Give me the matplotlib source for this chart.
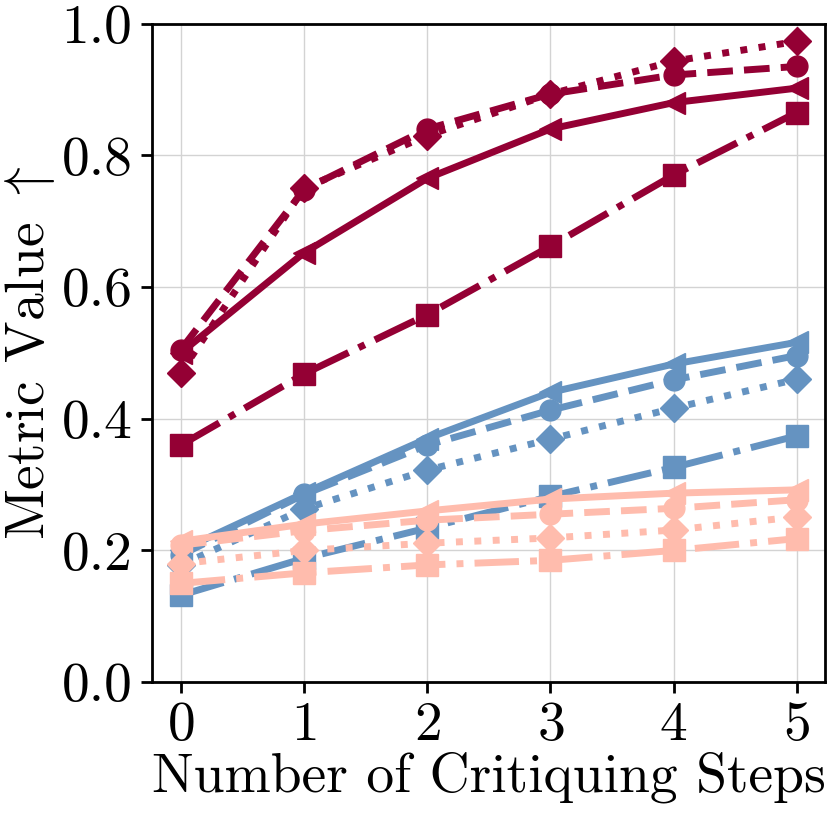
import numpy as np
import matplotlib
matplotlib.use("Agg")
import matplotlib.pyplot as plt

plt.rcParams["font.family"] = "cmr10"
plt.rcParams["mathtext.fontset"] = "cm"
plt.rcParams["axes.unicode_minus"] = False
plt.rcParams["axes.formatter.use_mathtext"] = True

steps = [0, 1, 2, 3, 4, 5]

# dark red group
red_solid = [0.500, 0.652, 0.765, 0.840, 0.880, 0.902]
red_dashed = [0.505, 0.748, 0.840, 0.893, 0.922, 0.935]
red_dotted = [0.470, 0.750, 0.830, 0.893, 0.943, 0.973]
red_dashdot = [0.360, 0.468, 0.558, 0.662, 0.770, 0.865]

# blue group
blue_solid = [0.200, 0.287, 0.370, 0.440, 0.483, 0.516]
blue_dashed = [0.193, 0.285, 0.360, 0.413, 0.459, 0.496]
blue_dotted = [0.178, 0.263, 0.322, 0.369, 0.416, 0.460]
blue_dashdot = [0.132, 0.188, 0.234, 0.282, 0.326, 0.374]

# salmon group
salmon_solid = [0.214, 0.240, 0.260, 0.278, 0.287, 0.292]
salmon_dashed = [0.208, 0.230, 0.246, 0.255, 0.264, 0.277]
salmon_dotted = [0.180, 0.200, 0.211, 0.219, 0.231, 0.251]
salmon_dashdot = [0.150, 0.166, 0.178, 0.185, 0.200, 0.218]

colors = {"red": "#940034", "blue": "#6593c1", "salmon": "#ffbcad"}
styles = [("-", "<", 16), ("--", "o", 15), (":", "D", 14), ("-.", "s", 16)]

groups = [
    ("red", [red_solid, red_dashed, red_dotted, red_dashdot]),
    ("blue", [blue_solid, blue_dashed, blue_dotted, blue_dashdot]),
    ("salmon", [salmon_solid, salmon_dashed, salmon_dotted, salmon_dashdot]),
]

fig = plt.figure(figsize=(8.3, 8.15), dpi=100)
ax = fig.add_axes([0.183, 0.163, 0.811, 0.808])

for name, series in groups:
    for vals, (ls, mk, ms) in zip(series, styles):
        ax.plot(steps, vals, linestyle=ls, marker=mk, color=colors[name],
                linewidth=5, markersize=ms)

ax.set_xlim(-0.235, 5.23)
ax.set_ylim(0, 1.0)
ax.set_xticks(steps)
ax.set_yticks([0.0, 0.2, 0.4, 0.6, 0.8, 1.0])
ax.set_yticklabels(["0.0", "0.2", "0.4", "0.6", "0.8", "1.0"])
ax.grid(True, color="#d3d3d3", linewidth=1)
ax.set_axisbelow(True)

for sp in ax.spines.values():
    sp.set_linewidth(2)
ax.tick_params(direction="out", length=8, width=2, labelsize=40, pad=6)

ax.set_xlabel("Number of Critiquing Steps", fontsize=40, labelpad=0)
ax.set_ylabel(r"Metric Value $\uparrow$", fontsize=40, labelpad=3)

plt.savefig("out.png", dpi=100)
